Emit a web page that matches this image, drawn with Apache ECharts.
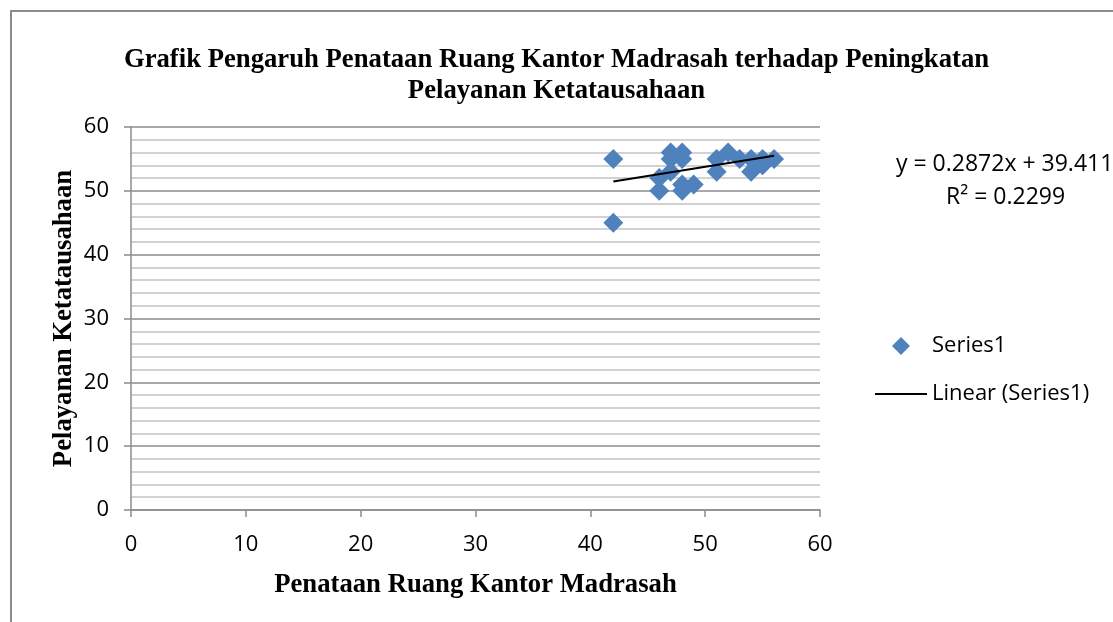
<!DOCTYPE html>
<html>
<head>
<meta charset="utf-8">
<script src="https://cdn.jsdelivr.net/npm/echarts@6/dist/echarts.min.js"></script>
<style>
  html, body { margin: 0; padding: 0; background: #fff; }
  #chart { width: 1113px; height: 622px; }
</style>
</head>
<body>
<div id="chart"></div>
<script>
    // data
    var penataan = [42, 42, 46, 46, 47, 47, 47, 48, 48, 48, 48, 49, 51, 51, 52, 53, 54, 54, 55, 55, 56];
    var pelayanan = [55, 45, 52, 50, 56, 55, 53, 56, 55, 51, 50, 51, 55, 53, 56, 55, 55, 53, 55, 54, 55];
    var trendSlope = 0.2872;
    var trendIntercept = 39.411;
    var trendLabel = 'y = 0.2872x + 39.411';
    var r2Label = 'R\u00b2 = 0.2299';

    var points = penataan.map(function (x, i) { return [x, pelayanan[i]]; });
    var xMin = Math.min.apply(null, penataan);
    var xMax = Math.max.apply(null, penataan);
    var trend = [
        [xMin, trendSlope * xMin + trendIntercept],
        [xMax, trendSlope * xMax + trendIntercept]
    ];

    var labelFont = '"Open Sans", "Liberation Sans", sans-serif';
    var serif = '"Liberation Serif", "Times New Roman", serif';

    var myChart = echarts.init(document.getElementById('chart'));

    var option = {
        animation: false,
        title: {
            text: 'Grafik Pengaruh Penataan Ruang Kantor Madrasah terhadap Peningkatan\nPelayanan Ketatausahaan',
            left: 'center',
            top: 40,
            textStyle: {
                fontFamily: serif,
                fontWeight: 'bold',
                fontSize: 26.7,
                lineHeight: 31,
                color: '#000'
            }
        },
        legend: [
            {
                left: 887,
                top: 330,
                itemWidth: 18,
                itemHeight: 18,
                data: [{ name: 'Series1', icon: 'diamond' }],
                textStyle: { fontFamily: labelFont, fontSize: 22, color: '#000', padding: [0, 0, 0, 17] }
            },
            {
                left: 870,
                top: 378,
                itemWidth: 52,
                itemHeight: 2,
                data: [{ name: 'Linear (Series1)', icon: 'rect' }],
                textStyle: { fontFamily: labelFont, fontSize: 22, color: '#000' }
            }
        ],
        graphic: [
            {
                type: 'rect',
                shape: { x: 11, y: 11, width: 1130, height: 640 },
                style: { fill: 'none', stroke: '#8c8c8c', lineWidth: 2 },
                silent: true
            },
            {
                type: 'text',
                left: 896,
                top: 153,
                style: { text: trendLabel, fontFamily: labelFont, fontSize: 23, fill: '#000' }
            },
            {
                type: 'text',
                left: 946,
                top: 186,
                style: { text: r2Label, fontFamily: labelFont, fontSize: 23, fill: '#000' }
            }
        ],
        grid: {
            left: 131,
            right: 293,
            top: 127,
            bottom: 112
        },
        xAxis: {
            type: 'value',
            min: 0,
            max: 60,
            interval: 10,
            name: 'Penataan Ruang Kantor Madrasah',
            nameLocation: 'middle',
            nameGap: 62,
            nameMoveOverlap: false,
            nameTextStyle: { fontFamily: serif, fontWeight: 'bold', fontSize: 26.7, color: '#000' },
            axisLine: { lineStyle: { color: '#8c8c8c', width: 1.5 } },
            axisTick: { show: true, length: 7, lineStyle: { color: '#8c8c8c', width: 1.5 } },
            axisLabel: { margin: 24, fontFamily: labelFont, fontSize: 22, color: '#000' },
            splitLine: { show: false }
        },
        yAxis: {
            type: 'value',
            min: 0,
            max: 60,
            interval: 10,
            name: 'Pelayanan Ketatausahaan',
            nameLocation: 'middle',
            nameGap: 53,
            nameMoveOverlap: false,
            nameTextStyle: { fontFamily: serif, fontWeight: 'bold', fontSize: 26.7, color: '#000' },
            axisLine: { show: true, lineStyle: { color: '#8c8c8c', width: 1.5 } },
            axisTick: { show: true, length: 7, lineStyle: { color: '#8c8c8c', width: 1.5 } },
            axisLabel: { margin: 22, fontFamily: labelFont, fontSize: 22, color: '#000' },
            splitLine: { show: true, lineStyle: { color: '#8c8c8c', width: 1.5 } },
            minorTick: { show: false, splitNumber: 5 },
            minorSplitLine: { show: true, lineStyle: { color: '#c4c4c4', width: 1.5 } }
        },
        series: [
            {
                name: 'Series1',
                type: 'scatter',
                symbol: 'diamond',
                symbolSize: 20,
                itemStyle: { color: '#4f81bd', opacity: 1 },
                data: points,
                z: 2
            },
            {
                name: 'Linear (Series1)',
                type: 'line',
                showSymbol: false,
                symbol: 'none',
                lineStyle: { color: '#000', width: 2 },
                itemStyle: { color: '#000' },
                data: trend,
                z: 3
            }
        ]
    };

    myChart.setOption(option);
</script>
</body>
</html>
